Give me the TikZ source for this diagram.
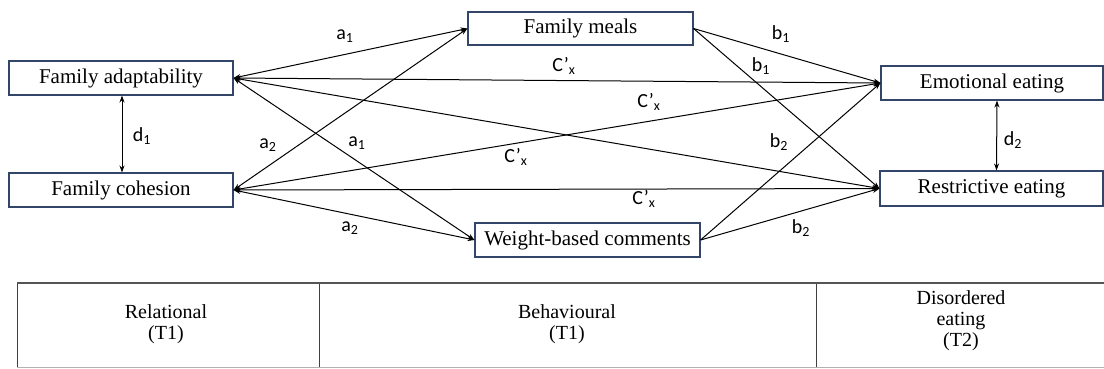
\documentclass[tikz,border=0pt]{standalone}
\usepackage{fontspec}
\setmainfont{Liberation Serif}
\newfontfamily\labfont{Carlito}
\usetikzlibrary{arrows.meta}
\tikzset{
  box/.style={draw=boxcol, line width=1.1pt, fill=white, inner sep=0pt, font=\fontsize{21}{24}\selectfont},
  conn/.style={line width=1pt, -{Stealth[length=7pt,width=5pt]}},
  both/.style={line width=1pt, {Stealth[length=7pt,width=5pt]}-{Stealth[length=7pt,width=5pt]}},
  lab/.style={font=\labfont\fontsize{20}{22}\selectfont, inner sep=0pt},
  cell/.style={align=center, font=\fontsize{20}{21}\selectfont, inner sep=0pt},
}
\definecolor{boxcol}{HTML}{34456A}
\definecolor{rulecol}{HTML}{555555}
\newcommand{\sbx}[1]{\textsubscript{#1}}
\begin{document}
\begin{tikzpicture}[x=1pt,y=-1pt]
\useasboundingbox (0,0) rectangle (1104,368);
% boxes
\node[box, minimum width=224pt, minimum height=34pt] (fa) at (121,78) {Family adaptability};
\node[box, minimum width=224pt, minimum height=34pt] (fc) at (121,190) {Family cohesion};
\node[box, minimum width=225pt, minimum height=33pt] (fm) at (580.5,28.5) {Family meals};
\node[box, minimum width=225pt, minimum height=34pt] (wb) at (587.5,240) {Weight-based comments};
\node[box, minimum width=222pt, minimum height=34pt] (ee) at (992,83) {Emotional eating};
\node[box, minimum width=223pt, minimum height=35pt] (re) at (991.5,188.5) {Restrictive eating};
% connectors
\draw[both] (fa.east) -- (fm.west);
\draw[both] (fa.east) -- (wb.west);
\draw[both] (fa.east) -- (ee.west);
\draw[both] (fa.east) -- (re.west);
\draw[both] (fc.east) -- (fm.west);
\draw[both] (fc.east) -- (wb.west);
\draw[both] (fc.east) -- (ee.west);
\draw[both] (fc.east) -- (re.west);
\draw[conn] (fm.east) -- (ee.west);
\draw[conn] (fm.east) -- (re.west);
\draw[conn] (wb.east) -- (ee.west);
\draw[conn] (wb.east) -- (re.west);
\draw[both] ([xshift=1pt]fa.south) -- ([xshift=1pt]fc.north);
\draw[both] ([xshift=5pt]ee.south) -- ([xshift=5pt]re.north);
% labels
\node[lab] (la1) at (345,36) {a\sbx{1}};
\node[lab] (la1b) at (357,143) {a\sbx{1}};
\node[lab] (la2) at (268,145) {a\sbx{2}};
\node[lab] (la2b) at (350,228) {a\sbx{2}};
\node[lab] (lb1) at (781,34) {b\sbx{1}};
\node[lab] (lb1b) at (761,66) {b\sbx{1}};
\node[lab] (lb2) at (779,142) {b\sbx{2}};
\node[lab] (lb2b) at (801,228) {b\sbx{2}};
\node[lab] (lc1) at (564,66) {C’\sbx{x}};
\node[lab] (lc2) at (649,102) {C’\sbx{x}};
\node[lab] (lc3) at (516,157) {C’\sbx{x}};
\node[lab] (lc4) at (644,199) {C’\sbx{x}};
\node[lab] (ld1) at (142,136) {d\sbx{1}};
\node[lab] (ld2) at (1013,140) {d\sbx{2}};
% table
\draw[line width=0.8pt, black!75] (17,283) -- (17,368);
\draw[line width=0.8pt, black!75] (319,283) -- (319,368);
\draw[line width=0.8pt, black!75] (816,283) -- (816,368);
\draw[line width=0.8pt, black!30] (17,367) -- (1104,367);
\draw[line width=2pt, rulecol] (17,283) -- (1104,283);
\node[cell] (rel) at (166,324) {Relational\\(T1)};
\node[cell] (beh) at (567,324) {Behavioural\\(T1)};
\node[cell] (dis) at (961,321) {Disordered\\eating\\(T2)};
\end{tikzpicture}
\end{document}
